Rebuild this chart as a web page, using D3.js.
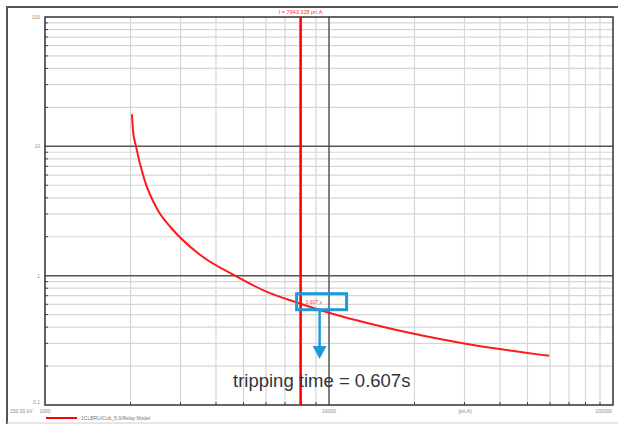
<!DOCTYPE html>
<html lang="en">
<head>
  <meta charset="UTF-8">
  <title>Relay curve</title>
  <script src="https://d3js.org/d3.v7.min.js"></script>
  <style>
    body { margin: 0; background: #fff; }
    svg { display: block; font-family: "Liberation Sans", Arial, sans-serif; }
  </style>
</head>
<body>
  <div id="root"></div>
  <script>
    // data
    const currents = [2024, 2041, 2091, 2232, 2500, 2755, 3513, 4667, 5960, 7943.328, 10000, 16400, 28900, 59600]
    const times = [17.7, 13.3, 10, 5.65, 3.19, 2.40, 1.45, 1.0, 0.76, 0.607, 0.516, 0.39, 0.303, 0.24]
    const xTickValues = [1000, 10000, 100000]
    const xTickLabels = ['1000', '10000', '100000']
    const yTickValues = [0.1, 1, 10, 100]
    const yTickLabels = ['0.1', '1', '10', '100']
    const faultCurrent = 7943.328
    const tripTime = 0.607

    const width = 622
    const height = 424
    const margin = {top: 17, right: 9, bottom: 19, left: 45}

    const svg = d3.select('#root')
      .append('svg')
      .attr('width', width)
      .attr('height', height)

    // frame
    svg.append('line').attr('x1', 7).attr('x2', 7).attr('y1', 6).attr('y2', 424).attr('stroke', '#555').attr('stroke-width', 2)
    svg.append('line').attr('x1', 6).attr('x2', 618).attr('y1', 7).attr('y2', 7).attr('stroke', '#555').attr('stroke-width', 2)
    svg.append('line').attr('x1', 7).attr('x2', 618).attr('y1', 423).attr('y2', 423).attr('stroke', '#ccc').attr('stroke-width', 1)

    const x = d3.scaleLog().domain([1000, 100000]).range([margin.left, width - margin.right])
    const y = d3.scaleLog().domain([0.1, 100]).range([height - margin.bottom, margin.top])

    // minor values
    const minorX = []
    ;[1000, 10000].forEach(d => { for (let k = 2; k <= 9; k++) minorX.push(d * k) })
    const minorY = []
    ;[0.1, 1, 10].forEach(d => { for (let k = 2; k <= 9; k++) minorY.push(d * k) })

    const grid = svg.append('g')
    grid.selectAll('line.mx').data(minorX).enter().append('line')
      .attr('x1', d => x(d)).attr('x2', d => x(d))
      .attr('y1', y(100)).attr('y2', y(0.1))
      .attr('stroke', '#d6d6d6').attr('stroke-width', 1.2)
    grid.selectAll('line.my').data(minorY).enter().append('line')
      .attr('y1', d => y(d)).attr('y2', d => y(d))
      .attr('x1', x(1000)).attr('x2', x(100000))
      .attr('stroke', '#d6d6d6').attr('stroke-width', 1.2)

    // small ticks
    grid.selectAll('line.tx').data(minorX).enter().append('line')
      .attr('x1', d => x(d)).attr('x2', d => x(d))
      .attr('y1', y(0.1)).attr('y2', y(0.1) - 3)
      .attr('stroke', '#444')
    grid.selectAll('line.ty').data(minorY).enter().append('line')
      .attr('y1', d => y(d)).attr('y2', d => y(d))
      .attr('x1', x(1000)).attr('x2', x(1000) + 3)
      .attr('stroke', '#444')

    // major lines
    grid.append('line').attr('x1', x(10000)).attr('x2', x(10000)).attr('y1', y(100)).attr('y2', y(0.1))
      .attr('stroke', '#555').attr('stroke-width', 1.5)
    ;[1, 10].forEach(v => {
      grid.append('line').attr('y1', y(v)).attr('y2', y(v)).attr('x1', x(1000)).attr('x2', x(100000))
        .attr('stroke', '#555').attr('stroke-width', 1.5)
    })
    grid.append('rect')
      .attr('x', x(1000)).attr('y', y(100))
      .attr('width', x(100000) - x(1000)).attr('height', y(0.1) - y(100))
      .attr('fill', 'none').attr('stroke', '#333').attr('stroke-width', 1.5)

    // axis labels
    svg.selectAll('text.yl').data(yTickValues).enter().append('text')
      .attr('x', x(1000) - 5).attr('y', (d, i) => i === 0 ? y(d) - 1 : y(d) + 2)
      .attr('text-anchor', 'end').attr('font-size', 5).attr('fill', '#b08a78')
      .text((d, i) => yTickLabels[i])
    svg.selectAll('text.xl').data(xTickValues).enter().append('text')
      .attr('x', (d, i) => i === 2 ? x(d) - 1 : x(d))
      .attr('y', 413)
      .attr('text-anchor', (d, i) => i === 2 ? 'end' : 'middle')
      .attr('font-size', 5).attr('fill', '#8a8a8a')
      .text((d, i) => xTickLabels[i])
    svg.append('text').attr('x', 10).attr('y', 413).attr('font-size', 5).attr('fill', '#8a8a8a').text('150.00 kV')
    svg.append('text').attr('x', 465).attr('y', 413).attr('text-anchor', 'middle').attr('font-size', 5).attr('fill', '#8a8a8a').text('[pri.A]')

    // relay curve
    const pts = currents.map((c, i) => [c, times[i]])
    const line = d3.line().x(d => x(d[0])).y(d => y(d[1])).curve(d3.curveMonotoneX)
    svg.append('path').datum(pts)
      .attr('d', line)
      .attr('fill', 'none').attr('stroke', '#ff1a1a').attr('stroke-width', 2)

    // fault current line
    svg.append('line')
      .attr('x1', x(faultCurrent)).attr('x2', x(faultCurrent))
      .attr('y1', y(100)).attr('y2', y(0.1))
      .attr('stroke', '#ff0000').attr('stroke-width', 2.5)
    svg.append('text').attr('x', x(faultCurrent)).attr('y', 14)
      .attr('text-anchor', 'middle').attr('font-size', 5.5).attr('fill', '#ff3030')
      .text('I = ' + faultCurrent + ' pri.A')

    // highlight box & arrow
    const bx = x(faultCurrent) - 4
    const by = y(tripTime) - 10
    svg.append('rect').attr('x', bx).attr('y', by).attr('width', 50).attr('height', 16)
      .attr('fill', 'none').attr('stroke', '#1e9ad8').attr('stroke-width', 3)
    svg.append('text').attr('x', bx + 9).attr('y', by + 10).attr('font-size', 5).attr('fill', '#ff4040')
      .text(tripTime + ' s')
    const ax = bx + 23
    svg.append('line').attr('x1', ax).attr('x2', ax).attr('y1', by + 16).attr('y2', 347)
      .attr('stroke', '#1e9ad8').attr('stroke-width', 2.5)
    svg.append('path').attr('d', `M${ax - 7},346 L${ax + 7},346 L${ax},359 Z`).attr('fill', '#1e9ad8')

    svg.append('text').attr('x', 233).attr('y', 387)
      .attr('font-size', 18.5).attr('fill', '#333')
      .text('tripping time = ' + tripTime + 's')

    // legend
    svg.append('line').attr('x1', 46).attr('x2', 77).attr('y1', 418).attr('y2', 418)
      .attr('stroke', '#ff0000').attr('stroke-width', 2)
    svg.append('text').attr('x', 81).attr('y', 420).attr('font-size', 5).attr('fill', '#777')
      .text('1CLBRU/Cub_5.0/Relay Model')
  </script>
</body>
</html>
